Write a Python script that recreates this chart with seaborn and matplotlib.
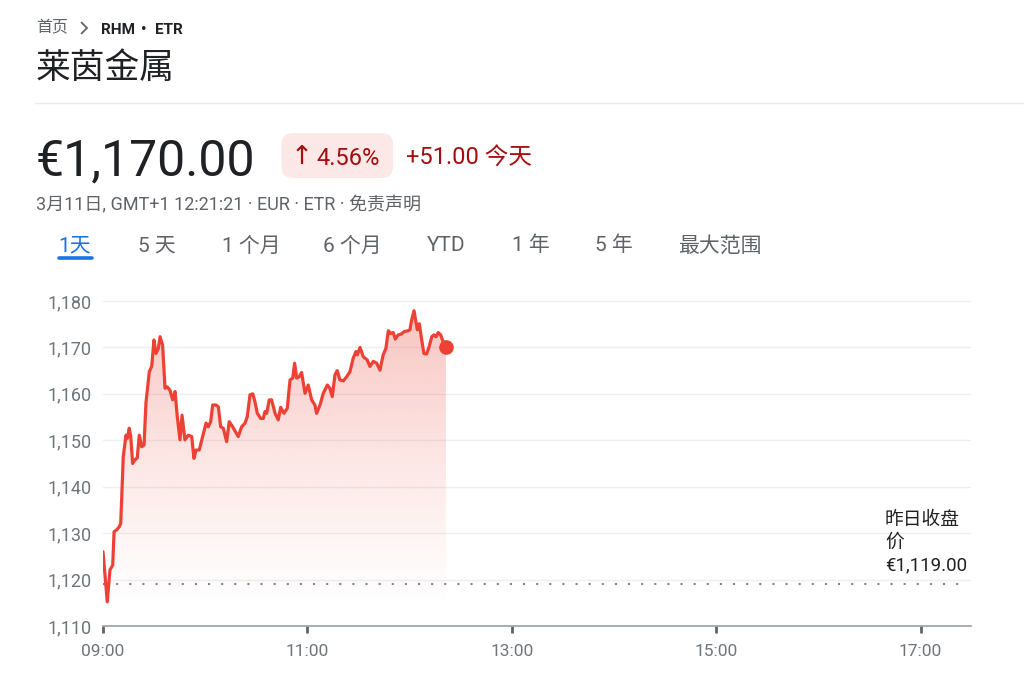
import numpy as np
import pandas as pd
import matplotlib
matplotlib.use("Agg")
import matplotlib.pyplot as plt
from matplotlib.patches import FancyBboxPatch
import seaborn as sns

# ---------------- data ----------------
minutes = [0, 2.5, 4.1, 5.7, 6.5, 8.0, 9.6, 10.4, 11.9, 13.5, 14.3, 15.4, 16.3, 17.4, 18.8,
           20.1, 21.3, 22.7, 24.1, 25.2, 27.2, 28.6, 29.9, 31.1, 32.5, 33.5, 35.0, 36.4,
           37.7, 39.3, 40.9, 42.3, 43.6, 45.2, 46.4, 48.1, 50.1, 52.1, 53.4, 54.6, 56.5,
           58.5, 60.5, 61.8, 63.2, 64.4, 66.3, 67.7, 69.1, 70.6, 72.6, 74.1, 76.1, 79.4,
           81.4, 83.4, 84.7, 86.3, 87.9, 89.2, 90.6, 92.6, 94.1, 95.1, 96.1, 97.6, 99.0,
           101.0, 102.9, 104.3, 106.2, 108.2, 109.8, 111.4, 112.5, 113.7, 115.2, 116.6,
           118.6, 120.5, 122.5, 124.4, 125.4, 127.4, 129.3, 131.7, 133.2, 134.6, 136.2,
           137.5, 139.1, 141.1, 143.1, 145.0, 146.9, 148.5, 149.3, 150.9, 152.8, 155.1,
           156.7, 158.7, 160.7, 162.6, 164.5, 166.1, 167.5, 168.9, 170.4, 171.6, 173.3,
           175.3, 176.7, 179.2, 180.2, 181.2, 182.6, 183.7, 184.5, 185.7, 187.1, 188.4,
           190.0, 191.5, 193.0, 194.3, 195.5, 196.8, 198.2, 199.4, 201.35]
prices = [1126.0, 1115.2, 1122.1, 1123.1, 1130.3, 1130.7, 1131.4, 1132.1, 1146.5, 1151.1,
          1150.4, 1152.6, 1150.8, 1145.0, 1145.8, 1146.2, 1151.1, 1148.6, 1149.0, 1158.0,
          1164.8, 1165.9, 1171.6, 1168.7, 1169.8, 1172.3, 1170.5, 1161.2, 1161.5, 1160.8,
          1158.7, 1160.5, 1155.1, 1150.1, 1155.4, 1150.1, 1151.1, 1150.8, 1146.1, 1147.9,
          1147.9, 1150.8, 1153.7, 1152.9, 1154.0, 1157.6, 1157.6, 1157.2, 1152.9, 1152.6,
          1149.7, 1154.0, 1152.9, 1150.8, 1152.9, 1153.7, 1155.1, 1159.8, 1160.0, 1158.3,
          1155.8, 1154.7, 1154.7, 1156.2, 1155.8, 1158.7, 1158.7, 1155.8, 1154.4, 1157.1,
          1155.8, 1156.9, 1163.0, 1163.4, 1166.6, 1163.4, 1163.7, 1164.6, 1160.1, 1161.9,
          1158.7, 1157.6, 1155.8, 1157.6, 1160.1, 1161.9, 1161.2, 1159.4, 1164.1, 1165.0,
          1163.0, 1162.8, 1163.7, 1164.8, 1167.7, 1169.1, 1168.4, 1170.0, 1168.0, 1167.3,
          1165.9, 1167.0, 1166.6, 1165.1, 1168.4, 1169.8, 1173.6, 1173.0, 1173.2, 1171.8,
          1172.7, 1172.9, 1173.4, 1173.6, 1173.8, 1175.9, 1177.9, 1175.5, 1173.8, 1175.1,
          1171.6, 1168.7, 1168.6, 1170.2, 1172.3, 1172.7, 1172.3, 1173.2, 1172.7, 1171.5,
          1170.0]
prev_close = 1119.0
y_ticks = [1110, 1120, 1130, 1140, 1150, 1160, 1170, 1180]
y_tick_labels = ["1,110", "1,120", "1,130", "1,140", "1,150", "1,160", "1,170", "1,180"]
x_ticks = [0, 120, 240, 360, 480]
x_tick_labels = ["09:00", "11:00", "13:00", "15:00", "17:00"]
tabs = ["1天", "5 天", "1 个月", "6 个月", "YTD", "1 年", "5 年", "最大范围"]
tab_x = [58, 138, 222, 323, 427, 512, 595, 678]

df = pd.DataFrame({"t": minutes, "price": prices})

# ---------------- style ----------------
sns.set_theme(style="white")
FONTS = ["Roboto", "Noto Sans CJK SC", "DejaVu Sans"]
plt.rcParams["font.family"] = FONTS

W, H = 1024, 688
fig = plt.figure(figsize=(W / 100, H / 100), dpi=100)
fig.patch.set_facecolor("white")

def fx(px):
    return px / W

def fy(py):
    return 1 - py / H

RED = "#ec4134"
DARKRED = "#a50e0e"
GRAY = "#5f6368"
TICKGRAY = "#70757a"
INK = "#202124"

# axes: x 103..971 px, y 287..626 px
ax = fig.add_axes([fx(103), fy(626), (971 - 103) / W, (626 - 287) / H])
ax.set_facecolor("white")
xmax = (971 - 103) / 102.2 * 60
ymax = 1110 + (626 - 287) / 46.43 * 10

# grid
for v in y_ticks[1:]:
    ax.axhline(v, color="#eeeff0", lw=1.0, zorder=0)

# gradient fill under line
poly = ax.fill_between(df["t"], df["price"], 1110, facecolor="none", edgecolor="none")
top_v, bot_v = 1178.0, 1113.0
grad = np.linspace(1, 0, 256)
rgba = np.zeros((256, 1, 4))
rgba[:, 0, 0] = 234 / 255
rgba[:, 0, 1] = 67 / 255
rgba[:, 0, 2] = 53 / 255
rgba[:, 0, 3] = 0.31 * grad ** 1.25
im = ax.imshow(rgba, extent=[0, minutes[-1], bot_v, top_v], aspect="auto",
               origin="upper", zorder=1, interpolation="bilinear")
im.set_clip_path(poly.get_paths()[0], transform=ax.transData)

# previous close dotted line
ax.plot([0, xmax - 1], [prev_close, prev_close], color="#80868b", lw=1.5,
        linestyle=(0, (1, 5.3)), dash_capstyle="butt", zorder=2)

# line
sns.lineplot(data=df, x="t", y="price", ax=ax, color=RED, lw=2.3, zorder=3,
             estimator=None, sort=False)
ax.plot([minutes[-1]], [prices[-1]], "o", color=RED, ms=9.5, zorder=4)

ax.set_xlim(0, xmax)
ax.set_ylim(1110, ymax)

# spines & ticks
for s in ["top", "right", "left"]:
    ax.spines[s].set_visible(False)
ax.spines["bottom"].set_color("#9aa0a6")
ax.spines["bottom"].set_linewidth(1.2)
ax.set_xticks(x_ticks)
ax.set_xticklabels(x_tick_labels)
ax.set_yticks(y_ticks)
ax.set_yticklabels(y_tick_labels)
ax.tick_params(axis="x", direction="out", length=5, width=2, color="#5f6368",
               labelsize=12.5, labelcolor=TICKGRAY, pad=8, bottom=True)
ax.tick_params(axis="y", length=0, labelsize=13, labelcolor=TICKGRAY, pad=8.5)
ax.set_xlabel("")
ax.set_ylabel("")
ax.grid(False)

# annotation for previous close
for i, txt in enumerate(["昨日收盘", "价", "€1,119.00"]):
    fig.text(fx(885), fy(520 + i * 22.5), txt, fontsize=13.5, color=INK,
             va="center", ha="left")

# ---------------- header ----------------
fig.text(fx(36), fy(28), "首页", fontsize=11.5, color=GRAY, va="center")
fig.add_artist(plt.Line2D([fx(81.5), fx(87), fx(81.5)], [fy(22.5), fy(28), fy(33.5)],
                          color=GRAY, lw=1.3, solid_joinstyle="miter"))
fig.text(fx(101), fy(34), "RHM", fontsize=11, color=INK, fontweight="bold",
         va="baseline")
fig.text(fx(144), fy(34), "•", fontsize=11, color=INK, fontweight="bold",
         va="baseline", ha="center")
fig.text(fx(155.5), fy(34), "ETR", fontsize=11, color=INK, fontweight="bold",
         va="baseline")
fig.text(fx(35.5), fy(68), "莱茵金属", fontsize=25, color=INK, va="center")
fig.add_artist(plt.Line2D([fx(35), 1], [fy(103), fy(103)], color="#e8eaed", lw=1))

fig.text(fx(36), fy(175), "€1,170.00", fontsize=36, color=INK, va="baseline")
badge = FancyBboxPatch((fx(281.5), fy(178)), fx(393) - fx(281.5), fy(133) - fy(178),
                       boxstyle="round,pad=0,rounding_size=0.011",
                       transform=fig.transFigure, facecolor="#fce8e6", edgecolor="none",
                       mutation_aspect=W / H)
fig.add_artist(badge)
fig.text(fx(301.5), fy(156.5), "↑", fontsize=19, color=DARKRED, va="center",
         ha="center", family=["DejaVu Sans"])
fig.text(fx(316), fy(165), "4.56%", fontsize=17, color=DARKRED, va="baseline")
fig.text(fx(406), fy(165), "+51.00 今天", fontsize=17, color=DARKRED, va="baseline")

fig.text(fx(36), fy(210), "3月11日, GMT+1 12:21:21 · EUR · ETR · 免责声明",
         fontsize=13, color=GRAY, va="baseline")

for lbl, x in zip(tabs, tab_x):
    col = "#1a73e8" if lbl == "1天" else GRAY
    fig.text(fx(x), fy(251.5), lbl, fontsize=15, color=col, va="baseline")
fig.add_artist(plt.Line2D([fx(59), fx(92)], [fy(258.3), fy(258.3)], color="#1a73e8",
                          lw=2.6, solid_capstyle="round"))

fig.savefig("out.png", dpi=100, facecolor="white")
